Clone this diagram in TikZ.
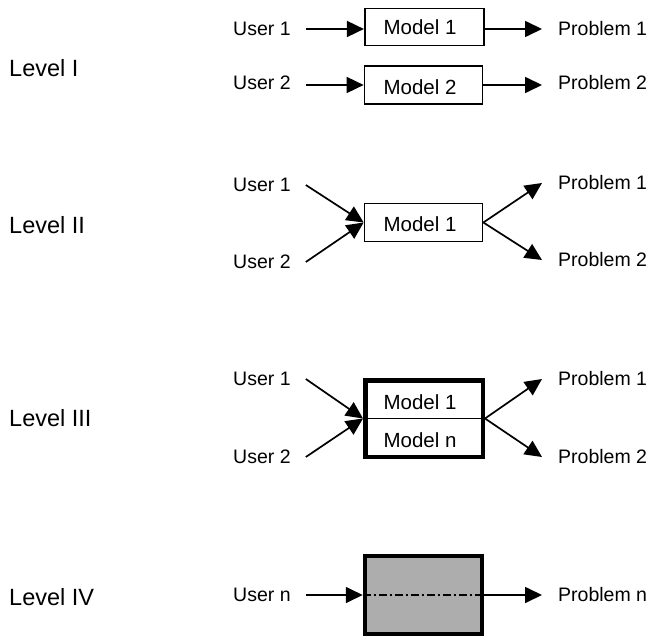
\documentclass[tikz,border=0pt]{standalone}
\usepackage{fontspec}
\setmainfont{Liberation Sans}
\usetikzlibrary{arrows.meta}
\definecolor{boxgray}{HTML}{ADADAD}
\begin{document}
\begin{tikzpicture}[x=1pt,y=-1pt,
  lbl/.style={anchor=west,inner sep=0pt,font=\fontsize{19.5}{22}\selectfont},
  lvl/.style={anchor=west,inner sep=0pt,font=\fontsize{23.5}{26}\selectfont},
  mtxt/.style={inner sep=0pt,font=\fontsize{20.5}{23}\selectfont},
  thinbox/.style={draw,line width=1.7pt,inner sep=0pt},
  thickbox/.style={draw,line width=4.5pt,inner sep=0pt},
  arr/.style={line width=1.7pt,-{Triangle[length=17pt,width=16pt]}}
]
\useasboundingbox (0,0) rectangle (647,636);

% Level labels
\node[lvl] (L1) at (9,68) {Level I};
\node[lvl] (L2) at (9,225.5) {Level II};
\node[lvl] (L3) at (9,418) {Level III};
\node[lvl] (L4) at (9,597.5) {Level IV};

% ---------- Level I ----------
\node[thinbox,minimum width=119.5pt,minimum height=37pt] (bI1) at (424.5,27) {};
\node[mtxt] (tI1) at (420,27) {Model 1};
\node[thinbox,minimum width=118pt,minimum height=38pt] (bI2) at (423.5,85) {};
\node[mtxt] (tI2) at (420,87) {Model 2};
\node[lbl] (uI1) at (233,29) {User 1};
\node[lbl] (uI2) at (233,83) {User 2};
\node[lbl] (pI1) at (558,29) {Problem 1};
\node[lbl] (pI2) at (558,83) {Problem 2};
\draw[arr] ([xshift=15pt]uI1.east) -- (uI1.east -| bI1.west);
\draw[arr] ([xshift=15pt]uI2.east |- bI2.west) -- (bI2.west);
\draw[arr] (bI1.east |- uI1.east) -- ([xshift=-16pt]pI1.west);
\draw[arr] (bI2.east) -- ([xshift=-16pt]pI2.west |- bI2.east);

% ---------- Level II ----------
\node[thinbox,minimum width=118pt,minimum height=38pt] (bII) at (423.5,222.5) {};
\node[mtxt] (tII) at (420,224) {Model 1};
\node[lbl] (uII1) at (233,185) {User 1};
\node[lbl] (uII2) at (233,262) {User 2};
\node[lbl] (pII1) at (558,183) {Problem 1};
\node[lbl] (pII2) at (558,260) {Problem 2};
\draw[arr] ([xshift=15pt]uII1.east) -- (bII.west);
\draw[arr] ([xshift=15pt]uII2.east) -- (bII.west);
\draw[arr] (bII.east) -- ([xshift=-16pt]pII1.west);
\draw[arr] (bII.east) -- ([xshift=-16pt]pII2.west);

% ---------- Level III ----------
\node[thickbox,minimum width=117.5pt,minimum height=76.5pt] (bIII) at (424,418.5) {};
\draw[line width=1.7pt] (bIII.west) -- (bIII.east);
\node[mtxt] (tIII1) at (420,402) {Model 1};
\node[mtxt] (tIII2) at (420,440) {Model n};
\node[lbl] (uIII1) at (233,379) {User 1};
\node[lbl] (uIII2) at (233,457) {User 2};
\node[lbl] (pIII1) at (558,379) {Problem 1};
\node[lbl] (pIII2) at (558,457) {Problem 2};
\draw[arr] ([xshift=15pt]uIII1.east) -- (bIII.west);
\draw[arr] ([xshift=15pt]uIII2.east) -- (bIII.west);
\draw[arr] (bIII.east) -- ([xshift=-16pt]pIII1.west);
\draw[arr] (bIII.east) -- ([xshift=-16pt]pIII2.west);

% ---------- Level IV ----------
\node[thickbox,fill=boxgray,minimum width=117pt,minimum height=78pt] (bIV) at (423.5,595) {};
\draw[line width=2pt,dash pattern=on 8pt off 3pt on 2pt off 3pt] (bIV.west) -- (bIV.east);
\node[lbl] (uIV) at (233,595) {User n};
\node[lbl] (pIV) at (558,595) {Problem n};
\draw[arr] ([xshift=15pt]uIV.east) -- (bIV.west);
\draw[arr] (bIV.east) -- ([xshift=-16pt]pIV.west);
\end{tikzpicture}
\end{document}
